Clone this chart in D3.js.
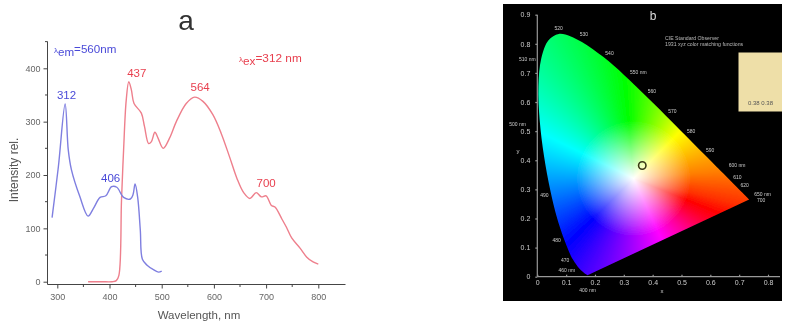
<!DOCTYPE html>
<html>
<head>
<meta charset="utf-8">
<script src="https://cdn.jsdelivr.net/npm/d3@7"></script>
<style>
  body { margin: 0; background: #fff; }
  svg { display: block; font-family: "Liberation Sans", Arial, sans-serif; }
</style>
</head>
<body>
<div id="vis"></div>
<script>
const FRAME_WIDTH = 785;
const FRAME_HEIGHT = 321;

// panel a data
const BLUE_WL = [290, 302, 315, 321, 327, 343, 359, 369, 382, 393, 404, 414, 427, 440, 445, 449, 454, 459, 463, 472, 485, 494, 500];
const BLUE_I = [120, 215, 333, 247, 210, 160, 123, 137, 158, 161, 178, 177, 158, 155, 163, 183, 158, 97, 42, 31, 22, 18, 20];
const RED_WL = [359, 385, 405, 413, 418, 423, 427, 432, 437, 442, 447, 461, 467, 475, 480, 487, 493, 503, 515, 528, 547, 563, 579, 598, 614, 630, 644, 657, 669, 681, 691, 700, 710, 717, 730, 739, 749, 765, 778, 790, 800];
const RED_I = [0, 0, 0, 2, 12, 153, 247, 340, 375, 359, 334, 316, 291, 259, 262, 280, 269, 250, 269, 300, 334, 346, 338, 313, 278, 234, 194, 167, 156, 167, 159, 161, 143, 140, 118, 102, 82, 63, 46, 37, 33];
const BLUE_PEAKS = [312, 406];
const BLUE_PEAK_I = [333, 178];
const RED_PEAKS = [437, 564, 700];
const RED_PEAK_I = [375, 346, 161];
const X_TICKS_A = [300, 400, 500, 600, 700, 800];
const Y_TICKS_A = [0, 100, 200, 300, 400];

// panel b data, spectral locus of the CIE 1931 diagram
const LOCUS_WL = [400, 440, 450, 460, 470, 475, 480, 485, 490, 495, 500, 505, 510, 515, 520, 525, 530, 535, 540, 545, 550, 555, 560, 565, 570, 575, 580, 585, 590, 595, 600, 610, 620, 630, 650, 700];
const LOCUS_X = [.1741, .1644, .1566, .1440, .1241, .1096, .0913, .0687, .0454, .0235, .0082, .0039, .0139, .0389, .0743, .1142, .1547, .1929, .2296, .2658, .3016, .3373, .3731, .4087, .4441, .4788, .5125, .5448, .5752, .6029, .6270, .6658, .6915, .7079, .7260, .7347];
const LOCUS_Y = [.0050, .0109, .0177, .0297, .0578, .0868, .1327, .2007, .2950, .4127, .5384, .6548, .7502, .8120, .8338, .8262, .8059, .7816, .7543, .7243, .6923, .6589, .6245, .5896, .5547, .5202, .4866, .4544, .4242, .3965, .3725, .3340, .3083, .2920, .2740, .2653];
const LOCUS_LABELS = ["400 nm", "460 nm", "470", "480", "490", "500 nm", "510 nm", "520", "530", "540", "550 nm", "560", "570", "580", "590", "600 nm", "610", "620", "650 nm", "700"];
const X_TICKS_B = [0, .1, .2, .3, .4, .5, .6, .7, .8];
const Y_TICKS_B = [0, .1, .2, .3, .4, .5, .6, .7, .8, .9];
const POINT_X = [.364];
const POINT_Y = [.382];

const FRAME = d3.select("#vis")
  .append("svg")
    .attr("width", FRAME_WIDTH)
    .attr("height", FRAME_HEIGHT);

const DEFS = FRAME.append("defs");
DEFS.append("filter").attr("id", "soft")
  .attr("x", "-5%").attr("y", "-5%").attr("width", "110%").attr("height", "110%")
  .append("feGaussianBlur").attr("stdDeviation", 0.45);

// ---- panel a ----
const X_A = d3.scaleLinear().domain([300, 800]).range([57.3, 318.3]);
const Y_A = d3.scaleLinear().domain([0, 400]).range([281.7, 68.3]);

const A = FRAME.append("g").attr("filter", "url(#soft)");

const xAxisA = A.append("g")
  .attr("transform", "translate(0,284.5)")
  .call(d3.axisBottom(X_A).tickValues(X_TICKS_A).tickSize(4).tickPadding(5).tickFormat(d3.format("d")));
xAxisA.append("path").attr("d", "M47.5,0H345.5").attr("stroke", "#444");
A.append("g").attr("transform", "translate(0,284.5)")
  .selectAll("line").data([350, 450, 550, 650, 750]).enter().append("line")
    .attr("x1", (d) => X_A(d)).attr("x2", (d) => X_A(d))
    .attr("y1", 0).attr("y2", 2.5).attr("stroke", "#444");

const yAxisA = A.append("g")
  .attr("transform", "translate(47.5,0)")
  .call(d3.axisLeft(Y_A).tickValues(Y_TICKS_A).tickSize(4).tickPadding(3).tickFormat(d3.format("d")));
yAxisA.append("path").attr("d", "M0,41.5V284.5").attr("stroke", "#444");
A.append("g").attr("transform", "translate(47.5,0)")
  .selectAll("line").data([50, 150, 250, 350, 450]).enter().append("line")
    .attr("y1", (d) => Y_A(d)).attr("y2", (d) => Y_A(d))
    .attr("x1", 0).attr("x2", -2.5).attr("stroke", "#444");

[xAxisA, yAxisA].forEach((ax) => {
  ax.selectAll("text").attr("font-size", 9).attr("fill", "#666").attr("font-family", "Liberation Sans");
  ax.selectAll("line").attr("stroke", "#444");
  ax.select(".domain").remove();
});

const LINE_A = d3.line().x((d) => X_A(d[0])).y((d) => Y_A(d[1])).curve(d3.curveCatmullRom.alpha(0.5));

A.append("path")
  .attr("d", LINE_A(d3.zip(RED_WL, RED_I)))
  .attr("fill", "none").attr("stroke", "#ee7f8c").attr("stroke-width", 1.4);
A.append("path")
  .attr("d", LINE_A(d3.zip(BLUE_WL, BLUE_I)))
  .attr("fill", "none").attr("stroke", "#7f7fe0").attr("stroke-width", 1.4);

// peak labels sit above their curve, pixel offsets
const BLUE_OFFSET = {312: [3, -5], 406: [-2, -5]};
const RED_OFFSET = {437: [8, -5], 564: [5, -6], 700: [0, -9]};
const BLUE_PEAK_COLOR = "#4a4ad8";
const RED_PEAK_COLOR = "#e8404f";

A.selectAll(".bluePeak").data(BLUE_PEAKS).enter().append("text")
  .attr("x", (d) => X_A(d) + BLUE_OFFSET[d][0])
  .attr("y", (d, i) => Y_A(BLUE_PEAK_I[i]) + BLUE_OFFSET[d][1])
  .attr("text-anchor", "middle").attr("font-size", 11.5).attr("fill", BLUE_PEAK_COLOR)
  .text((d) => d);

A.selectAll(".redPeak").data(RED_PEAKS).enter().append("text")
  .attr("x", (d) => X_A(d) + RED_OFFSET[d][0])
  .attr("y", (d, i) => Y_A(RED_PEAK_I[i]) + RED_OFFSET[d][1])
  .attr("text-anchor", "middle").attr("font-size", 11.5).attr("fill", RED_PEAK_COLOR)
  .text((d) => d);

const emLabel = A.append("text").attr("x", 54).attr("y", 53).attr("fill", BLUE_PEAK_COLOR).attr("font-size", 11.6);
emLabel.append("tspan").attr("font-size", 8).text("λ");
emLabel.append("tspan").attr("dy", 3).text("em");
emLabel.append("tspan").attr("dy", -3).text("=560nm");

const exLabel = A.append("text").attr("x", 239).attr("y", 62).attr("fill", RED_PEAK_COLOR).attr("font-size", 11.8);
exLabel.append("tspan").attr("font-size", 8).text("λ");
exLabel.append("tspan").attr("dy", 3).text("ex");
exLabel.append("tspan").attr("dy", -3).text("=312 nm");

A.append("text").attr("x", 186).attr("y", 30).attr("text-anchor", "middle")
  .attr("font-size", 28).attr("fill", "#333").text("a");
A.append("text").attr("transform", "translate(18,170) rotate(-90)")
  .attr("text-anchor", "middle").attr("font-size", 12).attr("fill", "#555").text("Intensity rel.");
A.append("text").attr("x", 199).attr("y", 319).attr("text-anchor", "middle")
  .attr("font-size", 11.5).attr("fill", "#555").text("Wavelength, nm");

// ---- panel b ----
const X_B = d3.scaleLinear().domain([0, .8]).range([537.3, 768]);
const Y_B = d3.scaleLinear().domain([0, .9]).range([276.7, 14.7]);

const B = FRAME.append("g").attr("filter", "url(#soft)");
B.append("rect").attr("x", 503).attr("y", 4).attr("width", 279).attr("height", 297).attr("fill", "#000");

// the diagram is coloured like a hue wheel round its white point
const WHITE_X = .332, WHITE_Y = .339;
const HUE = d3.scaleLinear()
  .domain([45, 95, 154, 219, 245, 295, 315, 331, 346, 365, 405])
  .range([60, 120, 180, 235, 258, 300, 325, 350, 371, 390, 420]);

function xyToRgb(x, y) {
  const dx = x - WHITE_X, dy = y - WHITE_Y;
  let angle = Math.atan2(dy, dx) * 180 / Math.PI;
  if (angle < 45) angle += 360;
  const sat = Math.min(1, Math.hypot(dx, dy) / .2);
  const c = d3.rgb(d3.hsl(HUE(angle) % 360, 1, .5));
  return [c.r, c.g, c.b].map((v) => v * sat + 255 * (1 - sat));
}

const LEFT = 530, TOP = 20, W = 230, H = 262;
const canvas = document.createElement("canvas");
canvas.width = W; canvas.height = H;
const ctx = canvas.getContext("2d");
const img = ctx.createImageData(W, H);
for (let j = 0; j < H; j++) {
  for (let i = 0; i < W; i++) {
    const rgb = xyToRgb(X_B.invert(LEFT + i), Y_B.invert(TOP + j));
    const k = 4 * (j * W + i);
    img.data[k] = rgb[0]; img.data[k + 1] = rgb[1]; img.data[k + 2] = rgb[2]; img.data[k + 3] = 255;
  }
}
ctx.putImageData(img, 0, 0);
// keep only what lies inside the locus
ctx.globalCompositeOperation = "destination-in";
ctx.beginPath();
d3.line().x((d) => X_B(d[0]) - LEFT).y((d) => Y_B(d[1]) - TOP)
  .curve(d3.curveCatmullRom.alpha(0.5)).context(ctx)(d3.zip(LOCUS_X, LOCUS_Y));
ctx.closePath();
ctx.fill();

B.append("image").attr("x", LEFT).attr("y", TOP).attr("width", W).attr("height", H)
  .attr("href", canvas.toDataURL());

const xAxisB = B.append("g").attr("transform", "translate(0,276.7)")
  .call(d3.axisBottom(X_B).tickValues(X_TICKS_B).tickSize(-2).tickPadding(3).tickFormat((d) => d === 0 ? "0" : d3.format(".1f")(d)));
xAxisB.append("path").attr("d", "M537.3,0H780");
const yAxisB = B.append("g").attr("transform", "translate(537.3,0)")
  .call(d3.axisLeft(Y_B).tickValues(Y_TICKS_B).tickSize(2).tickPadding(5).tickFormat((d) => d === 0 ? "0" : d3.format(".1f")(d)));
yAxisB.append("path").attr("d", "M0,14.7V276.7");
[xAxisB, yAxisB].forEach((ax) => {
  ax.select(".domain").remove();
  ax.selectAll("path, line").attr("stroke", "#999").attr("stroke-width", 1.2);
  ax.selectAll("text").attr("font-size", 7).attr("fill", "#ccc").attr("font-family", "Liberation Sans");
});

// label offsets from the locus, in pixels
const LABEL_OFFSET = {
  400: [0, 17], 460: [-12, 4], 470: [-8, 2], 480: [-7, 4], 490: [-6, 6], 500: [-22, 6], 510: [-14, 3],
  520: [0, -4], 530: [2, -6], 540: [6, -2], 550: [14, -1], 560: [7, -2], 570: [7, -2], 580: [6, -2],
  590: [7, -1], 600: [19, -1], 610: [8, 0], 620: [8, 0], 650: [16, -1], 700: [12, 3]
};
B.selectAll(".locusLabel").data(LOCUS_LABELS).enter().append("text")
  .attr("x", (d) => {
    const wl = parseInt(d);
    return X_B(LOCUS_X[LOCUS_WL.indexOf(wl)]) + LABEL_OFFSET[wl][0];
  })
  .attr("y", (d) => {
    const wl = parseInt(d);
    return Y_B(LOCUS_Y[LOCUS_WL.indexOf(wl)]) + LABEL_OFFSET[wl][1];
  })
  .attr("text-anchor", "middle").attr("font-size", 5).attr("fill", "#ccc")
  .text((d) => d);

B.selectAll(".sample").data(POINT_X).enter().append("circle")
  .attr("cx", (d) => X_B(d)).attr("cy", (d, i) => Y_B(POINT_Y[i])).attr("r", 3.7)
  .attr("fill", "none").attr("stroke", "#3a3a18").attr("stroke-width", 1.6);

B.append("text").attr("x", 653).attr("y", 20).attr("text-anchor", "middle")
  .attr("font-size", 12).attr("fill", "#ddd").text("b");
B.append("text").attr("x", 665).attr("y", 39.5).attr("font-size", 5.2).attr("fill", "#bbb").text("CIE Standard Observer");
B.append("text").attr("x", 665).attr("y", 45.5).attr("font-size", 5.2).attr("fill", "#bbb").text("1931 xyz color matching functions");
B.append("text").attr("x", 518).attr("y", 153).attr("text-anchor", "middle").attr("font-size", 6).attr("fill", "#ccc").text("y");
B.append("text").attr("x", 662).attr("y", 293).attr("text-anchor", "middle").attr("font-size", 6).attr("fill", "#ccc").text("x");

B.append("rect").attr("x", 738.5).attr("y", 52.5).attr("width", 43.5).attr("height", 59).attr("fill", "#eedfa8");
B.append("text").attr("x", 760.5).attr("y", 105).attr("text-anchor", "middle").attr("font-size", 6).attr("fill", "#555").text("0.38 0.38");
</script>
</body>
</html>
